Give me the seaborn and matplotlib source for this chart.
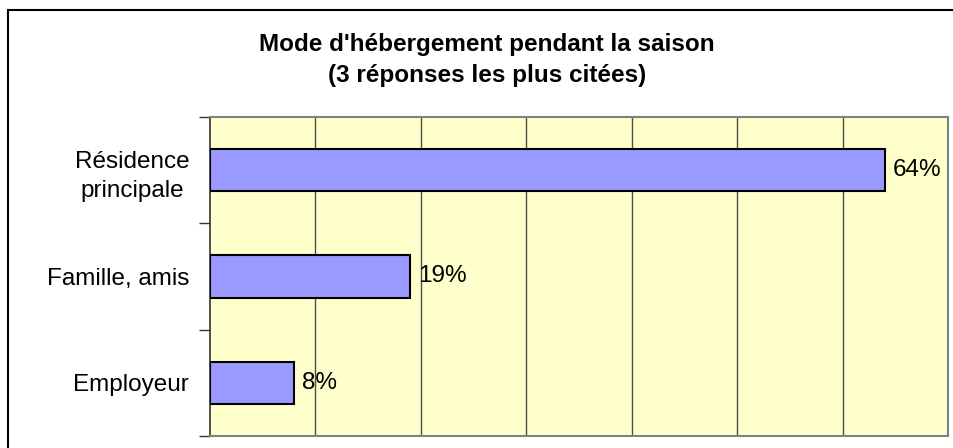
import matplotlib
matplotlib.use("Agg")
import matplotlib.pyplot as plt
import seaborn as sns
import pandas as pd
from matplotlib.patches import Rectangle

categories = ["Résidence\nprincipale", "Famille, amis", "Employeur"]
values = [64, 19, 8]
value_labels = ["64%", "19%", "8%"]
title_text = "Mode d'hébergement pendant la saison\n(3 réponses les plus citées)"

sns.set_theme(style="white")
plt.rcParams["font.family"] = ["Liberation Sans", "DejaVu Sans"]
plt.rcParams["text.color"] = "black"
plt.rcParams["ytick.color"] = "black"
plt.rcParams["ytick.labelcolor"] = "black"

W, H = 954, 448
fig = plt.figure(figsize=(W / 100, H / 100), dpi=100)
fig.patch.set_facecolor("white")

# outer frame (top and left visible, right/bottom cut off)
fig.add_artist(Rectangle((8 / W, -0.2), 1.5, (H - 10) / H + 0.2, transform=fig.transFigure,
                         fill=False, edgecolor="black", linewidth=1.5, clip_on=False))

ax = fig.add_axes([210 / W, (H - 436) / H, 738 / W, 319 / H])
df = pd.DataFrame({"cat": categories, "val": values})
sns.barplot(data=df, x="val", y="cat", orient="h", color="#9999FF", saturation=1,
            width=0.4, edgecolor="black", linewidth=1.5, ax=ax, zorder=3)

ax.set_facecolor("#FFFFCC")
ax.set_xlim(0, 70)
ax.set_ylim(2.5, -0.5)
ax.set_xticks([10, 20, 30, 40, 50, 60])
ax.set_xticklabels([])
ax.tick_params(axis="x", length=0)
ax.grid(axis="x", color="#4d4d4d", linewidth=1, zorder=0)
ax.set_axisbelow(True)
ax.set_xlabel("")
ax.set_ylabel("")

ax.set_yticks([0, 1, 2])
ax.set_yticklabels(categories, fontsize=17.5, multialignment="center", linespacing=1.45)
ax.set_yticks([-0.5, 0.5, 1.5, 2.5], minor=True)
ax.tick_params(axis="y", which="major", length=0, pad=15)
ax.tick_params(axis="y", which="minor", length=8, width=1, color="#333333", left=True)

for side in ["top", "right", "bottom"]:
    ax.spines[side].set_color("#808080")
    ax.spines[side].set_linewidth(1.5)
ax.spines["left"].set_color("#333333")
ax.spines["left"].set_linewidth(1.2)

for i, (v, lab) in enumerate(zip(values, value_labels)):
    ax.annotate(lab, xy=(v, i), xytext=(5.5, 0), textcoords="offset points",
                ha="left", va="center", fontsize=17.5, color="black")

fig.text(487 / W, 1 - 60 / H, title_text, ha="center", va="center", fontsize=17.5,
         fontweight="bold", linespacing=1.45, color="black")

fig.savefig("out.png", dpi=100)
